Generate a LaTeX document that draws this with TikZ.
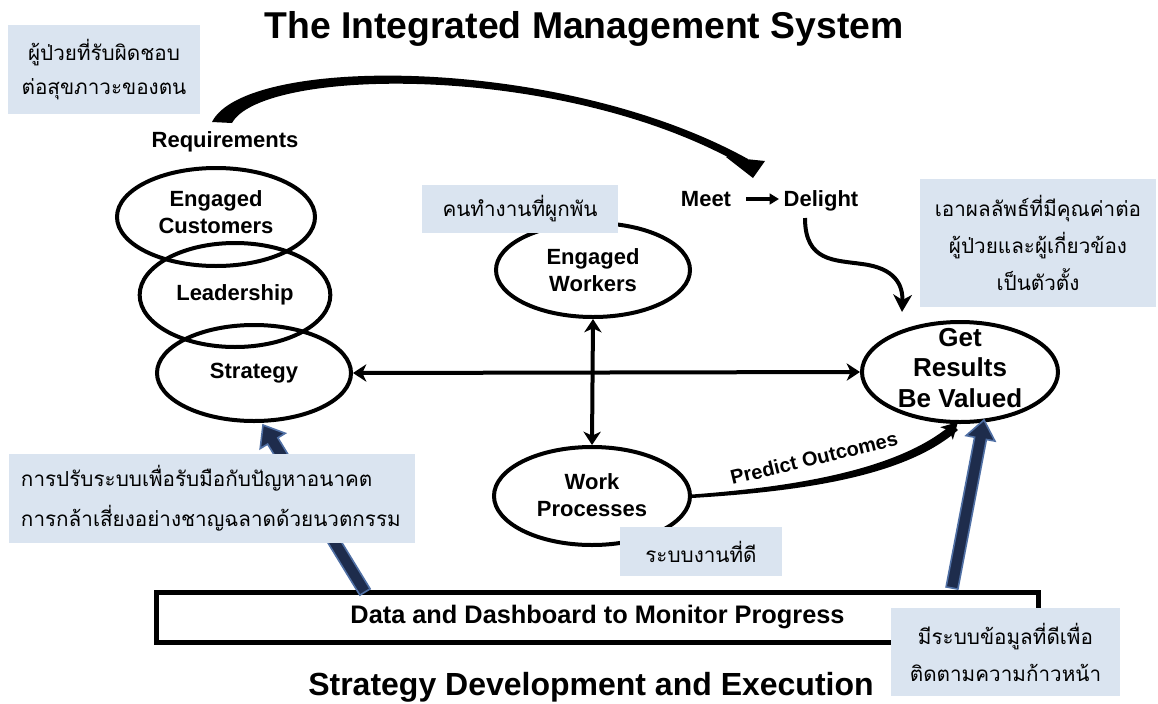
\documentclass[tikz,border=0pt]{standalone}
\usepackage{fontspec}
\setmainfont{Liberation Sans}
\newfontfamily\thai[Script=Thai]{Loma}
\usetikzlibrary{shapes.geometric,arrows.meta,calc}
\definecolor{boxfill}{RGB}{218,228,240}
\definecolor{navy}{RGB}{30,44,76}
\definecolor{navyedge}{RGB}{80,112,165}
\newcommand{\fatarrow}[2]{%
  \path ($(#2)!14pt!(#1)$) coordinate (fhh);
  \filldraw[fill=navy,draw=navyedge,line width=1.2pt,line join=miter]
    ($(#1)!4.5pt!90:(#2)$) -- ($(fhh)!4.5pt!90:(#2)$) -- ($(fhh)!11pt!90:(#2)$)
    -- (#2) -- ($(fhh)!11pt!-90:(#2)$) -- ($(fhh)!4.5pt!-90:(#2)$)
    -- ($(#1)!4.5pt!-90:(#2)$) -- cycle;}
\begin{document}
\begin{tikzpicture}[x=0.75pt,y=-0.75pt,
  oval/.style={draw,ellipse,line width=3pt,inner sep=0pt},
  lbl/.style={font=\bfseries\fontsize{16.5}{20}\selectfont,align=center,inner sep=0pt},
  tbox/.style={fill=boxfill,inner sep=0pt,align=center,font=\thai\fontsize{15.5}{25.5}\selectfont},
  conn/.style={line width=3pt,{Stealth[length=10pt,width=13pt,inset=3pt]}-{Stealth[length=10pt,width=13pt,inset=3pt]}},
]
\useasboundingbox (0,0) rectangle (1158,704);
\fill[white] (0,0) rectangle (1158,704);

% titles
\node[anchor=base,font=\bfseries\fontsize{28}{32}\selectfont,inner sep=0pt] (title) at (584,38) {The Integrated Management System};
\node[anchor=base,font=\bfseries\fontsize{24}{28}\selectfont,inner sep=0pt] (subtitle) at (591,695) {Strategy Development and Execution};

% ellipses
\node[oval,minimum width=148.5pt,minimum height=73.5pt] (cust) at (216,217) {};
\node[oval,minimum width=143pt,minimum height=78pt] (lead) at (235,295) {};
\node[oval,minimum width=145.5pt,minimum height=72pt] (strat) at (254,373) {};
\node[oval,minimum width=145.5pt,minimum height=70.5pt] (ew) at (593,270) {};
\node[oval,minimum width=147pt,minimum height=73.5pt] (wp) at (592,496) {};
\node[oval,minimum width=147pt,minimum height=75pt] (get) at (960,372) {};

\node[lbl] (custT) at (216,212) {Engaged\\Customers};
\node[lbl] (leadT) at (235,295) {Leadership};
\node[lbl] (stratT) at (254,373) {Strategy};
\node[lbl] (ewT) at (593,270) {Engaged\\Workers};
\node[lbl,font=\bfseries\fontsize{16.5}{20.5}\selectfont] (wpT) at (592,495) {Work\\Processes};
\node[lbl,font=\bfseries\fontsize{19.5}{23}\selectfont] (getT) at (960,368) {Get\\Results\\Be Valued};

% small labels
\node[lbl,anchor=base] (req) at (225,147) {Requirements};
\node[lbl,anchor=base] (meet) at (706,206) {Meet};
\node[lbl,anchor=base] (del) at (821,206) {Delight};
\coordinate (ma) at (746,199);
\coordinate (mb) at (779,199);
\draw[line width=2.5pt,-{Triangle[length=7pt,width=8pt]}] (ma) -- (mb);

% big curved arrow Requirements -> Meet
\fill (212,122) .. controls (245,55) and (560,55) .. (748,159)
  -- (737,162) .. controls (556,62) and (262,68) .. (232,123) -- cycle;
\fill (726,157) -- (765,161) -- (753,178) -- cycle;

% Delight -> Get wavy arrow
\coordinate (ds) at (805,218);
\draw[line width=3pt,-{Stealth[length=13pt,width=14pt,inset=4pt]}] (ds) .. controls (805,262) and (835,260) .. (862,264)
  .. controls (895,268) and (903,285) .. (902,312);

% main connectors
\draw[conn] (strat.east) -- (get.west);
\draw[conn] (ew.south) -- (wp.north);

% predict outcomes (tapered)
\fill (wp.east) ++(0,-1.5) .. controls (790,487) and (898,471) .. (952,424)
  -- (958,430) .. controls (903,479) and (790,492) .. ($(wp.east)+(0,2)$) -- cycle;
\draw[line width=3pt,-{Stealth[length=12pt,width=13pt,inset=3pt]}] (948,432) -- (958,422);
\node[lbl,font=\bfseries\fontsize{15}{18}\selectfont,rotate=13.5] (pred) at (814,458) {Predict Outcomes};

% data box
\node[draw,line width=3.75pt,minimum width=661pt,minimum height=37.5pt,inner sep=0pt,
  font=\bfseries\fontsize{19}{22}\selectfont] (data) at (597.5,617) {Data and Dashboard to Monitor Progress};

% blue arrows
\coordinate (b1) at (365,592);
\coordinate (t1) at (263,425);
\coordinate (b2) at (952,588);
\coordinate (t2) at (984,420);
\fatarrow{b1}{t1}
\fatarrow{b2}{t2}

% Thai boxes
\node[tbox,minimum width=144pt,minimum height=66.75pt] (box1) at (104,69.5) {ผู้ป่วยที่รับผิดชอบ\\ต่อสุขภาวะของตน};
\node[tbox,minimum width=147pt,minimum height=36pt] (box2) at (520,209) {คนทำงานที่ผูกพัน};
\node[tbox,minimum width=177pt,minimum height=96pt,font=\thai\fontsize{15.5}{28}\selectfont] (box3) at (1038,243) {เอาผลลัพธ์ที่มีคุณค่าต่อ\\ผู้ป่วยและผู้เกี่ยวข้อง\\เป็นตัวตั้ง};
\node[tbox,minimum width=304.5pt,minimum height=66.75pt,inner xsep=9pt,text width=286.5pt,align=left,font=\thai\fontsize{15.5}{30}\selectfont] (box4) at (212,498.5) {การปรับระบบเพื่อรับมือกับปัญหาอนาคต\\การกล้าเสี่ยงอย่างชาญฉลาดด้วยนวตกรรม};
\node[tbox,minimum width=121.5pt,minimum height=36.75pt] (box5) at (701,551.5) {ระบบงานที่ดี};
\node[tbox,minimum width=171.75pt,minimum height=66pt,font=\thai\fontsize{15.5}{27.75}\selectfont] (box6) at (1005.5,652) {มีระบบข้อมูลที่ดีเพื่อ\\ติดตามความก้าวหน้า};
\end{tikzpicture}
\end{document}
